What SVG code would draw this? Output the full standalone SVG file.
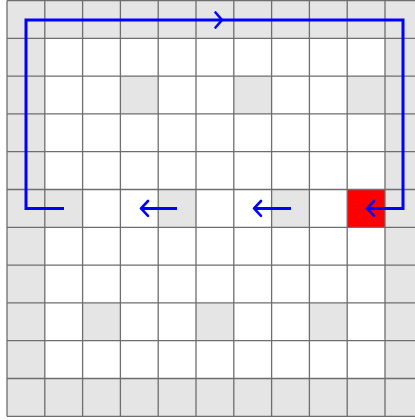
<svg xmlns="http://www.w3.org/2000/svg" width="415" height="420" viewBox="0 0 415 420">
<style>
.g{fill:#e5e5e5}
.r{fill:#ff0000}
.ln{stroke:#6e6e6e;stroke-width:1.3;fill:none}
.p{stroke:#0000ff;stroke-width:3;fill:none;stroke-linecap:butt;stroke-linejoin:miter}
.h{stroke:#0000ff;stroke-width:2.6;fill:none;stroke-linecap:round;stroke-linejoin:round}
</style>
<rect width="415" height="420" fill="#ffffff"/>
<g id="cells">
<rect class="g" x="7" y="0.5" width="416" height="37.8"/>
<rect class="g" x="7" y="378.5" width="416" height="37.8"/>
<rect class="g" x="7" y="0.5" width="37.8" height="415.8"/>
<rect class="g" x="385" y="0.5" width="38" height="415.8"/>
<rect class="g" x="120.4" y="76.1" width="37.8" height="37.8"/>
<rect class="g" x="233.8" y="76.1" width="37.8" height="37.8"/>
<rect class="g" x="347.2" y="76.1" width="37.8" height="37.8"/>
<rect class="g" x="44.8" y="189.5" width="37.8" height="37.8"/>
<rect class="g" x="158.2" y="189.5" width="37.8" height="37.8"/>
<rect class="g" x="271.6" y="189.5" width="37.8" height="37.8"/>
<rect class="g" x="82.6" y="302.9" width="37.8" height="37.8"/>
<rect class="g" x="196" y="302.9" width="37.8" height="37.8"/>
<rect class="g" x="309.4" y="302.9" width="37.8" height="37.8"/>
</g>
<g id="target">
<rect class="r" x="347.2" y="189.5" width="37.8" height="37.8"/>
</g>
<g id="grid" class="ln">
<path d="M7 0.5V416.3M44.8 0.5V416.3M82.6 0.5V416.3M120.4 0.5V416.3M158.2 0.5V416.3M196 0.5V416.3M233.8 0.5V416.3M271.6 0.5V416.3M309.4 0.5V416.3M347.2 0.5V416.3M385 0.5V416.3"/>
<path d="M7 0.5H423M7 38.3H423M7 76.1H423M7 113.9H423M7 151.7H423M7 189.5H423M7 227.3H423M7 265.1H423M7 302.9H423M7 340.7H423M7 378.5H423M7 416.3H423"/>
</g>
<g id="connectors">
<polyline class="p" points="64,208.4 26,208.4 26,20 403,20 403,208.4 367,208.4"/>
<polyline class="h" points="215.5,12.5 222,20 215.5,27.5"/>
<polyline class="h" points="374,201 367,208.4 374,215.8"/>
<line class="p" x1="177" y1="208.4" x2="141" y2="208.4"/>
<polyline class="h" points="148,201 141,208.4 148,215.8"/>
<line class="p" x1="291" y1="208.4" x2="254" y2="208.4"/>
<polyline class="h" points="261,201 254,208.4 261,215.8"/>
</g>
</svg>
